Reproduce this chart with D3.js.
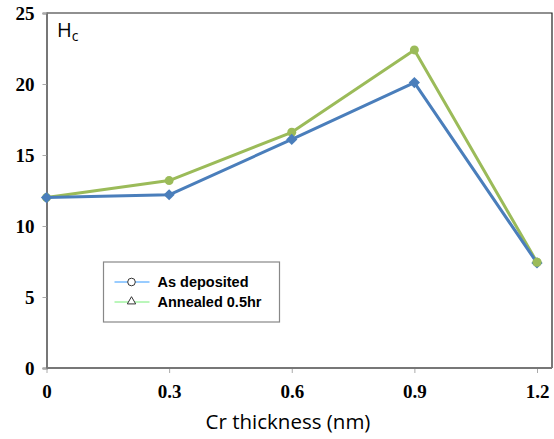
<!DOCTYPE html>
<html>
<head>
<meta charset="utf-8">
<script src="https://cdn.jsdelivr.net/npm/d3@7"></script>
<style>
  html, body { margin: 0; padding: 0; background: #fff; }
  svg { display: block; }
</style>
</head>
<body>
<svg id="chart" width="554" height="439"></svg>
<script>
// Coercivity vs. Cr spacer thickness
const thickness = [0, 0.3, 0.6, 0.9, 1.2];
const asDeposited = [12.0, 12.2, 16.1, 20.1, 7.4];
const annealed = [12.0, 13.2, 16.6, 22.4, 7.45];
const yTicks = [0, 5, 10, 15, 20, 25];
const xTickLabels = ["0", "0.3", "0.6", "0.9", "1.2"];
const seriesNames = ["As deposited", "Annealed 0.5hr"];

const svg = d3.select("#chart");
const plotLeft = 46.5, plotRight = 552, plotTop = 13, plotBottom = 368;

const x = d3.scaleLinear().domain([0, 1.2]).range([plotLeft, 537]);
const y = d3.scaleLinear().domain([0, 25]).range([plotBottom, plotTop]);

// plot frame: top and right edges
svg.append("path")
  .attr("d", `M${plotLeft},${plotTop}H${plotRight}V${plotBottom}`)
  .attr("fill", "none").attr("stroke", "#222").attr("stroke-width", 1.2);

// y axis
const yAxis = d3.axisLeft(y).tickValues(yTicks).tickSize(4).tickPadding(8)
  .tickFormat(d3.format("d"));
const gy = svg.append("g").attr("transform", `translate(${plotLeft},0)`).call(yAxis);
gy.select(".domain").attr("stroke", "#777").attr("stroke-width", 2);
gy.selectAll(".tick line").attr("stroke", "#aaa");
gy.selectAll(".tick text")
  .attr("font-family", "'Liberation Serif', 'Times New Roman', serif")
  .attr("font-weight", "bold").attr("font-size", 19).attr("fill", "#000");

// x axis
const xAxis = d3.axisBottom(x).tickValues(thickness).tickSize(5).tickPadding(12)
  .tickFormat((d, i) => xTickLabels[i]);
const gx = svg.append("g").attr("transform", `translate(0,${plotBottom})`).call(xAxis);
gx.select(".domain").remove();
gx.append("line").attr("x1", plotLeft).attr("x2", plotRight)
  .attr("stroke", "#777").attr("stroke-width", 2);
gx.selectAll(".tick line").attr("stroke", "#aaa");
gx.selectAll(".tick text")
  .attr("font-family", "'Liberation Serif', 'Times New Roman', serif")
  .attr("font-weight", "bold").attr("font-size", 19).attr("fill", "#000");

// axis title
svg.append("text")
  .attr("x", 288).attr("y", 429)
  .attr("text-anchor", "middle")
  .attr("font-family", "'Open Sans', 'Noto Sans', sans-serif")
  .attr("font-size", 20.5).attr("fill", "#000")
  .text("Cr thickness (nm)");

// H_c label
const hc = svg.append("text")
  .attr("x", 57).attr("y", 37)
  .attr("font-family", "'Open Sans', 'Noto Sans', sans-serif")
  .attr("font-size", 20).attr("fill", "#000");
hc.append("tspan").text("H");
hc.append("tspan").attr("font-size", 14).attr("dy", 4).text("c");

const line = d3.line().x((d, i) => x(thickness[i])).y(d => y(d));

// annealed series (green circles)
svg.append("path").datum(annealed)
  .attr("d", line).attr("fill", "none")
  .attr("stroke", "#9BBB59").attr("stroke-width", 3).attr("stroke-linejoin", "round");
svg.append("g").selectAll("circle").data(annealed).join("circle")
  .attr("cx", (d, i) => x(thickness[i])).attr("cy", d => y(d))
  .attr("r", 4.5).attr("fill", "#9BBB59");

// as-deposited series (blue diamonds)
svg.append("path").datum(asDeposited)
  .attr("d", line).attr("fill", "none")
  .attr("stroke", "#4A7EBB").attr("stroke-width", 3).attr("stroke-linejoin", "round");
svg.append("g").selectAll("path").data(asDeposited).join("path")
  .attr("transform", (d, i) => `translate(${x(thickness[i])},${y(d)})`)
  .attr("d", d3.symbol(d3.symbolDiamond2, 80))
  .attr("fill", "#4A7EBB");

// last green point sits on top where both series meet
svg.append("circle")
  .attr("cx", x(thickness[4])).attr("cy", y(annealed[4]))
  .attr("r", 4.5).attr("fill", "#9BBB59");

// legend
const lg = svg.append("g").attr("transform", "translate(103.5,262)");
lg.append("rect").attr("width", 176).attr("height", 60)
  .attr("fill", "#fff").attr("stroke", "#888").attr("stroke-width", 1.2);
const legendColors = ["#3399FF", "#77EE77"];
seriesNames.forEach((name, i) => {
  const cy = 20 + i * 20;
  lg.append("line").attr("x1", 11).attr("x2", 46).attr("y1", cy).attr("y2", cy)
    .attr("stroke", legendColors[i]).attr("stroke-width", 1);
  if (i === 0) {
    lg.append("circle").attr("cx", 28).attr("cy", cy).attr("r", 3.8)
      .attr("fill", "#fff").attr("stroke", "#333").attr("stroke-width", 1);
  } else {
    lg.append("path").attr("transform", `translate(28,${cy - 0.5})`)
      .attr("d", d3.symbol(d3.symbolTriangle2, 50))
      .attr("fill", "#fff").attr("stroke", "#333").attr("stroke-width", 1);
  }
  lg.append("text").attr("x", 54).attr("y", cy + 5)
    .attr("font-family", "'Liberation Sans', Arial, sans-serif")
    .attr("font-weight", "bold").attr("font-size", 14.5).attr("fill", "#000")
    .text(name);
});
</script>
</body>
</html>
